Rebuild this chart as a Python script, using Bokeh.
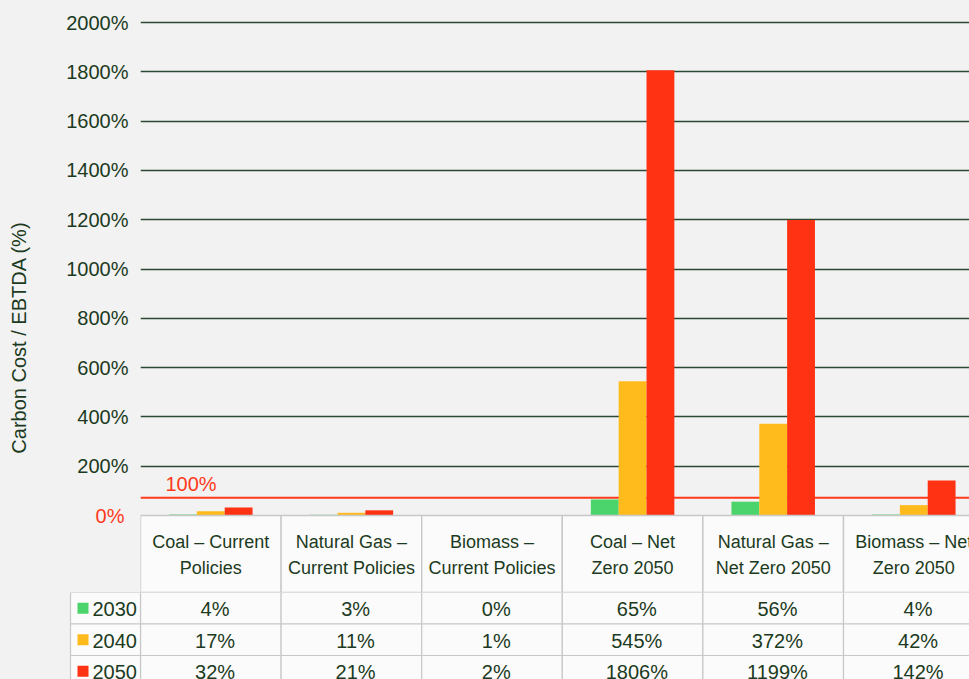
import math
from bokeh.plotting import figure
from bokeh.layouts import column, row
from bokeh.models import Range1d, FixedTicker, Span, Label, ColumnDataSource, LinearAxis, Grid
from bokeh.core.properties import value
from bokeh.embed import file_html
from bokeh.resources import INLINE

# ---------------- data ----------------
categories = ["Coal – Current Policies", "Natural Gas – Current Policies",
              "Biomass – Current Policies", "Coal – Net Zero 2050",
              "Natural Gas – Net Zero 2050", "Biomass – Net Zero 2050"]
header_lines = ["Coal – Current\nPolicies", "Natural Gas –\nCurrent Policies",
                "Biomass –\nCurrent Policies", "Coal – Net\nZero 2050",
                "Natural Gas –\nNet Zero 2050", "Biomass – Net\nZero 2050"]
years = ["2030", "2040", "2050"]
v2030 = [4, 3, 0, 65, 56, 4]
v2040 = [17, 11, 1, 545, 372, 42]
v2050 = [32, 21, 2, 1806, 1199, 142]
series = [v2030, v2040, v2050]
colors = ["#4cd46c", "#ffbb1c", "#ff3214"]
y_ticks = [200, 400, 600, 800, 1000, 1200, 1400, 1600, 1800, 2000]
threshold_value = 72
threshold_text = "100%"
y_title = "Carbon Cost / EBTDA (%)"

# ---------------- layout ----------------
W, H = 969, 679
LW = 40                     # width of the strip holding the axis title
LEFT, TOP = 140, 10         # absolute pixel of plot frame left / top
COL = 140.6                 # pixel width of one category column
Y0 = 515                    # pixel row of 0 %
PXU = 493 / 2000            # pixels per percent unit
HEAD_B = 592                # bottom of header row / split between figures
ROW_H = 31.5

BG = "#f2f2f2"
TXT = "#1b3a21"
GRID = "#2c4a33"
RED = "#ff3a1a"
CELL = "#fbfbfb"
BORDER = "#c8c8c8"
FONT = "Liberation Sans"
idx = list(range(len(categories)))


def base_fig(**kw):
    f = figure(output_backend="svg", toolbar_location=None,
               x_axis_location=None, y_axis_location=None,
               min_border_right=0, min_border_bottom=0,
               background_fill_color=BG, border_fill_color=BG,
               outline_line_color=None, frame_align=False, **kw)
    for g in f.grid:
        g.visible = False
    return f


# ================= left strip: axis title =================
t = base_fig(width=LW, height=H, x_range=Range1d(0, LW), y_range=Range1d(0, H),
             min_border_left=0, min_border_top=0)
t.text(x=[18], y=[H - 337], text=[y_title], angle=math.pi / 2,
       text_font=value(FONT), text_font_size="20px", text_color=TXT,
       text_align="center", text_baseline="middle")

# ================= top figure: bars + header row =================
p = base_fig(width=W - LW, height=HEAD_B,
             x_range=Range1d(0, (W - LEFT) / COL),
             y_range=Range1d(-(HEAD_B - Y0) / PXU, (Y0 - TOP) / PXU),
             min_border_left=LEFT - LW, min_border_top=TOP)
p.extra_y_ranges = {"px": Range1d(HEAD_B, TOP)}

# inner axis: red 0 %
ax0 = LinearAxis(ticker=FixedTicker(ticks=[0]), major_label_overrides={0: "0%"},
                 axis_line_color=None, major_tick_line_color=None, minor_tick_line_color=None,
                 major_tick_out=0, major_label_standoff=16,
                 major_label_text_font=FONT, major_label_text_font_size="20px",
                 major_label_text_color=RED)
p.add_layout(ax0, "left")
# outer axis: percentages
ax1 = LinearAxis(ticker=FixedTicker(ticks=y_ticks),
                 major_label_overrides={tk: f"{tk}%" for tk in y_ticks},
                 axis_line_color=None, major_tick_line_color=None, minor_tick_line_color=None,
                 major_tick_out=0, major_label_standoff=-36,
                 major_label_text_font=FONT, major_label_text_font_size="20px",
                 major_label_text_color=TXT)
p.add_layout(ax1, "left")

p.add_layout(Grid(dimension=1, ticker=FixedTicker(ticks=y_ticks),
                  grid_line_color=GRID, grid_line_width=1.4))

# threshold line
p.add_layout(Span(location=threshold_value, dimension="width", line_color=RED,
                  line_width=2, level="underlay"))
p.add_layout(Label(x=0, y=483, y_range_name="px", x_offset=25,
                   text=threshold_text, text_color=RED, text_font=FONT,
                   text_font_size="20px", text_align="left", text_baseline="middle"))

# bars
BW = 0.198
for k, (vals, col) in enumerate(zip(series, colors)):
    src = ColumnDataSource(dict(x=[i + 0.5 + (k - 1) * BW for i in idx], top=vals))
    p.vbar(x="x", top="top", bottom=0, width=BW, source=src,
           fill_color=col, line_color=None)

# header cells
p.quad(left=idx, right=[i + 1 for i in idx],
       top=[Y0] * len(idx), bottom=[HEAD_B] * len(idx), y_range_name="px",
       fill_color=CELL, line_color=BORDER, line_width=1.4)
p.text(x=[i + 0.5 for i in idx], y=[(Y0 + HEAD_B) / 2 + 1] * len(idx),
       text=header_lines, y_range_name="px",
       text_font=value(FONT), text_font_size="18px", text_color=TXT,
       text_align="center", text_baseline="middle", text_line_height=1.33)

# ================= bottom figure: value rows =================
q = base_fig(width=W - LW, height=H - HEAD_B,
             x_range=Range1d(-(LEFT - LW) / COL, (W - LEFT) / COL),
             y_range=Range1d(H, HEAD_B),
             min_border_left=0, min_border_top=0)
q.extra_x_ranges = {"px": Range1d(LW, W)}

for r, (yr, vals, col) in enumerate(zip(years, series, colors)):
    top = HEAD_B + r * ROW_H
    bot = top + ROW_H
    mid = (top + bot) / 2
    q.quad(left=idx, right=[i + 1 for i in idx],
           top=[top] * len(idx), bottom=[bot] * len(idx),
           fill_color=CELL, line_color=BORDER, line_width=1.2)
    q.text(x=[i + 0.53 for i in idx], y=[mid + 1] * len(idx),
           text=[f"{v}%" for v in vals],
           text_font=value(FONT), text_font_size="20px", text_color=TXT,
           text_align="center", text_baseline="middle")
    # legend column cell
    q.quad(left=[70], right=[LEFT], top=[top], bottom=[bot], x_range_name="px",
           fill_color=CELL, line_color=BORDER, line_width=1.2)
    q.quad(left=[77], right=[88], top=[mid - 5.5], bottom=[mid + 5.5], x_range_name="px",
           fill_color=col, line_color=None)
    q.text(x=[92], y=[mid + 1], text=[yr], x_range_name="px",
           text_font=value(FONT), text_font_size="20px", text_color=TXT,
           text_align="left", text_baseline="middle")

layout = row(t, column(p, q, spacing=0, styles={"background-color": BG}),
             spacing=0, styles={"background-color": BG})
open("out.html", "w").write(file_html(layout, INLINE))
